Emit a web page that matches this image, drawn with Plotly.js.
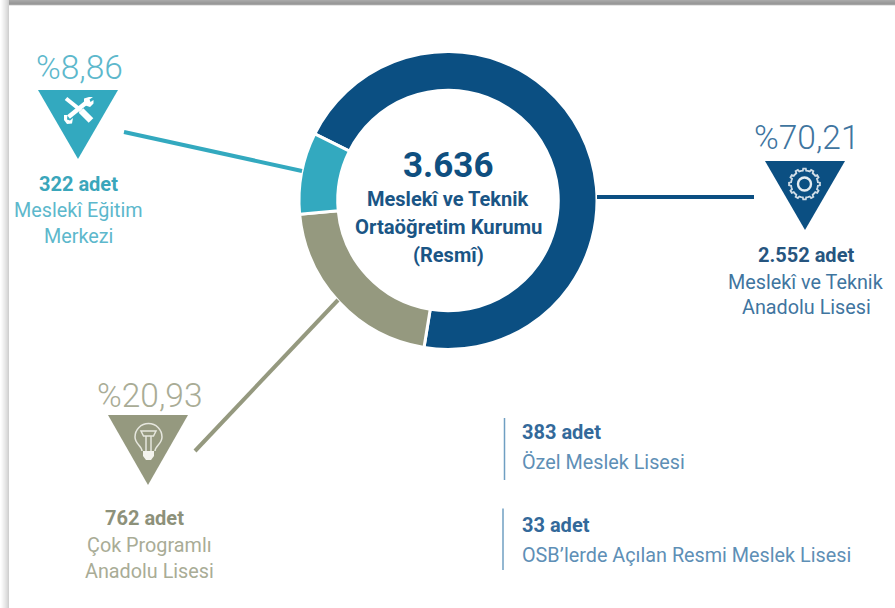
<!DOCTYPE html>
<html><head><meta charset="utf-8">
<script src="https://cdn.plot.ly/plotly-3.0.1.min.js"></script>
<style>html,body{margin:0;padding:0;background:#fff;overflow:hidden}#c{width:895px;height:608px}</style>
</head><body><div id="c"></div>
<script>
const W = 895, H = 608;
const categories = ["Meslekî ve Teknik Anadolu Lisesi", "Çok Programlı Anadolu Lisesi", "Meslekî Eğitim Merkezi"];
const counts = [2552, 762, 322];
const colors = ["#0b4f82", "#95997f", "#33a9bf"];
const percents = ["%70,21", "%20,93", "%8,86"];
const countLabels = ["2.552 adet", "762 adet", "322 adet"];
const nameLabels = ["Meslekî ve Teknik<br>Anadolu Lisesi", "Çok Programlı<br>Anadolu Lisesi", "Meslekî Eğitim<br>Merkezi"];
const textColors = ["#3f759f", "#a9ac96", "#5db8cc"];
const boldColors = ["#26557f", "#8d917a", "#3aa6bb"];
const extraCounts = ["383 adet", "33 adet"];
const extraNames = ["Özel Meslek Lisesi", "OSB’lerde Açılan Resmi Meslek Lisesi"];
const F = "Roboto, sans-serif";

const cx = 448, cy = 200.5, R = 149;
const shapes = [];
const line = (x0,y0,x1,y1,c,w) => shapes.push({type:"line",xref:"x",yref:"y",x0,y0,x1,y1,line:{color:c,width:w}});
const path = (d,fill,stroke,w) => shapes.push({type:"path",xref:"x",yref:"y",path:d,fillcolor:fill||"rgba(0,0,0,0)",line:{color:stroke||"rgba(0,0,0,0)",width:w||0}});

// frame shadow
const leftGrays = ["#ffffff","#fbfbfb","#f6f6f6","#f0f0f0","#ebebeb","#e5e5e5","#dfdfdf","#d8d8d8","#d0d0d0"];
leftGrays.forEach((c,i)=>shapes.push({type:"rect",xref:"x",yref:"y",x0:i,x1:i+1,y0:0,y1:H,fillcolor:c,line:{width:0}}));
const topGrays = ["#a8a8a8","#a2a2a2","#9c9c9c","#989898","#a4a4a4"];
topGrays.forEach((c,i)=>shapes.push({type:"rect",xref:"x",yref:"y",x0:9,x1:W,y0:i,y1:i+1,fillcolor:c,line:{width:0}}));
shapes.push({type:"rect",xref:"x",yref:"y",x0:9,x1:W,y0:5,y1:6,fillcolor:"#e6e6e6",line:{width:0}});

// leader lines
line(597,197,754,197,colors[0],4);
line(195,451,338,300,colors[1],4);
line(124,132,302,171,colors[2],4);

// triangles
const tris = [[765,161,845,805,230],[108,415,188,148,485],[38,90,118,78,159]];
tris.forEach((t,i)=>path(`M${t[0]},${t[1]} L${t[2]},${t[1]} L${t[3]},${t[4]} Z`,colors[i]));

// gear icon
(function(){
  const gx=804.5,gy=184,n=12; let d="";
  for(let i=0;i<n;i++){
    const s=2*Math.PI/n,a=i*s;
    const pts=[[13.5,a-s*0.5],[13.5,a-s*0.24],[15.5,a-s*0.16],[15.5,a+s*0.16],[13.5,a+s*0.24]];
    pts.forEach((p,j)=>{d+=(i==0&&j==0?"M":"L")+(gx+p[0]*Math.cos(p[1])).toFixed(2)+","+(gy+p[0]*Math.sin(p[1])).toFixed(2)+" ";});
  }
  path(d+"Z",null,"#cfdce6",1.8);
  shapes.push({type:"circle",xref:"x",yref:"y",x0:gx-6.5,x1:gx+6.5,y0:gy-6.5,y1:gy+6.5,line:{color:"#e4ecf1",width:2.4}});
})();

// tools icon
line(81,110.5,91,120.5,"#fff",6.5);
line(66,98.5,81,110.5,"#fff",4);
line(68.5,117,87,102,"#fff",4.4);
path("M64,115 L64,120 L67,124 L72,123.5 L73,118 L70,120.5 L67,119.5 L67.5,115 Z","#fff");
path("M84,98.5 L89,97 L93,97 L89.5,99.5 L90.5,102 L93.5,100 L93.5,103.5 L90,107 L84,105 Z","#fff");

// bulb icon
const bc="#e6e7de";
path("M142,451 C142,446 135,444 135,437 C135,429.5 141,423.5 148.5,423.5 C156,423.5 162,429.5 162,437 C162,444 155,446 155,451",null,bc,1.5);
path("M141,431 L156,431 L153.5,436 L143.5,436 Z",null,bc,1.5);
line(146,436,146,451,bc,1.5);
line(151,436,151,451,bc,1.5);
path("M143,451 L154,451 L154,456 L151,460 L146,460 L143,456 Z","#f3f3ee");

// separators
line(504.5,418,504.5,480,"#6f9fc2",1.5);
line(503,508.5,503,570,"#6f9fc2",1.5);

const ann = [];
const t = (x,y,text,size,color,opts) => ann.push(Object.assign({xref:"x",yref:"y",x,y,text,showarrow:false,xanchor:"center",yanchor:"middle",
  font:{family:F,size,color}},opts||{}));

const groups = [
 {x:807,p:137,b:805.5,c:255,n:[282,307]},
 {x:150,p:395,b:144.5,c:518,n:[545,571]},
 {x:79.5,p:67,b:78,c:184,n:[210,236]}
];
groups.forEach((g,i)=>{
  t(g.x,g.p,percents[i],33.5,textColors[i],{font:{family:F,size:33.5,color:textColors[i],weight:300}});
  t(g.b,g.c,"<b>"+countLabels[i]+"</b>",20,boldColors[i]);
  const ls=nameLabels[i].split("<br>");
  t(g.x-1,g.n[0],ls[0],19.8,textColors[i]);
  t(g.x-1,g.n[1],ls[1],19.8,textColors[i]);
});
t(520,432,"<b>"+extraCounts[0]+"</b>",20,"#33699a",{xanchor:"left"});
t(520,462,extraNames[0],19.8,"#5e8fb6",{xanchor:"left"});
t(520,525,"<b>"+extraCounts[1]+"</b>",20,"#33699a",{xanchor:"left"});
t(520,555,extraNames[1],19.8,"#5e8fb6",{xanchor:"left"});

t(448,165,"<b>3.636</b>",35,"#0f4f80");
t(448,199,"<b>Meslekî ve Teknik</b>",20,"#1a5585");
t(448,227,"<b>Ortaöğretim Kurumu</b>",20.3,"#1a5585");
t(448,255,"<b>(Resmî)</b>",20,"#1a5585");

Plotly.newPlot("c",[{
  type:"pie",labels:categories,values:counts,hole:0.74,sort:false,direction:"clockwise",rotation:296.6,
  marker:{colors,line:{color:"#fff",width:3}},textinfo:"none",hoverinfo:"label+value+percent",
  domain:{x:[(cx-R)/W,(cx+R)/W],y:[1-(cy+R)/H,1-(cy-R)/H]},showlegend:false
}],{
  width:W,height:H,margin:{l:0,r:0,t:0,b:0},paper_bgcolor:"#fff",plot_bgcolor:"rgba(0,0,0,0)",showlegend:false,
  xaxis:{range:[0,W],visible:false,fixedrange:true},
  yaxis:{range:[H,0],visible:false,fixedrange:true},
  shapes,annotations:ann
},{displayModeBar:false,staticPlot:true});
</script></body></html>
